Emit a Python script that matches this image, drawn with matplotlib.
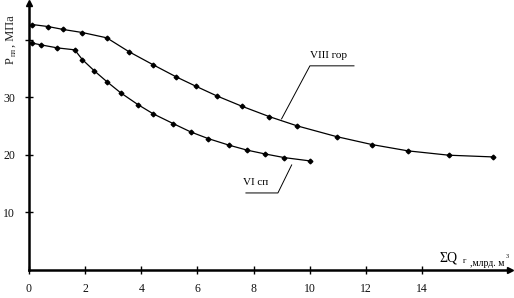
import matplotlib
matplotlib.use("Agg")
import matplotlib.pyplot as plt

# VIII гор
q_viii = [0.12, 0.69, 1.22, 1.90, 2.77, 3.55, 4.41, 5.23, 5.94, 6.69, 7.58, 8.56,
          9.56, 10.96, 12.23, 13.51, 14.96, 16.54]
p_viii = [42.66, 42.3, 41.8, 41.27, 40.35, 37.97, 35.7, 33.6, 31.95, 30.26, 28.47,
          26.66, 25.04, 23.18, 21.79, 20.7, 19.95, 19.65]

# VI сп
q_vi = [0.12, 0.42, 1.01, 1.63, 1.90, 2.33, 2.77, 3.27, 3.88, 4.43, 5.14, 5.76,
        6.39, 7.13, 7.78, 8.41, 9.10, 10.01]
p_vi = [39.43, 39.13, 38.6, 38.26, 36.57, 34.6, 32.75, 30.78, 28.75, 27.13, 25.44,
        24.0, 22.83, 21.69, 20.82, 20.17, 19.53, 18.96]

x_ticks = [0, 2, 4, 6, 8, 10, 12, 14]
y_ticks = [10, 20, 30, 40]
y_tick_labels = ["10", "20", "30", ""]

W, H = 514, 298
fig = plt.figure(figsize=(W / 100, H / 100), dpi=100)
x0, x1, y0, y1 = 29, 510, 270, 3
ax = fig.add_axes([x0 / W, (H - y0) / H, (x1 - x0) / W, (y0 - y1) / H])
ax.set_xlim(0, 17.14)
ax.set_ylim(0, 46.4)

for s in ["top", "right"]:
    ax.spines[s].set_visible(False)
for s in ["left", "bottom"]:
    ax.spines[s].set_linewidth(1.8)
    ax.spines[s].set_color("black")

# стрелки осей
ax.plot(1, 0, ">k", ms=5, transform=ax.transAxes, clip_on=False)
ax.plot(0, 1, "^k", ms=5, transform=ax.transAxes, clip_on=False)

ax.set_xticks(x_ticks)
ax.set_yticks(y_ticks)
ax.set_yticklabels(y_tick_labels)
ax.tick_params(direction="inout", length=6, width=1, labelsize=8.5)
ax.tick_params(axis="x", pad=6)
ax.tick_params(axis="y", pad=7)
for lab in ax.get_xticklabels() + ax.get_yticklabels():
    lab.set_fontfamily("Liberation Serif")
    lab.set_color("#111111")

ax.plot(q_viii, p_viii, color="black", lw=0.9, marker="D", ms=2.4)
ax.plot([0] + q_vi, [p_vi[0]] + p_vi, color="black", lw=0.9)
ax.plot(q_vi, p_vi, color="black", lw=0, marker="D", ms=2.4)

serif = "Liberation Serif"
# подписи кривых
ax.plot([9.0, 10.01, 11.58], [26.26, 35.48, 35.48], color="black", lw=0.7)
ax.text(10.69, 37.3, "VIII гор", fontsize=8, family=serif, ha="center", va="center")
ax.plot([9.36, 8.87, 7.73], [18.26, 13.39, 13.39], color="black", lw=0.7)
ax.text(8.09, 15.2, "VI сп", fontsize=8, family=serif, ha="center", va="center")

# подписи осей
fig.text(11 / W, 1 - 61 / H, "Р", rotation=90, fontsize=9, family=serif,
         ha="center", va="center", color="#222222")
fig.text(14 / W, 1 - 52 / H, "пл", rotation=90, fontsize=5.5, family=serif,
         ha="center", va="center", color="#222222")
fig.text(11 / W, 1 - 47 / H, ", МПа", rotation=90, fontsize=9, family=serif,
         ha="center", va="bottom", color="#222222")

fig.text(440 / W, 1 - 258 / H, "ΣQ", fontsize=10, family=serif, ha="left", va="center")
fig.text(463 / W, 1 - 261 / H, "г", fontsize=6, family=serif, ha="left", va="center")
fig.text(470 / W, 1 - 263 / H, ",млрд. м", fontsize=7, family=serif, ha="left", va="center")
fig.text(506 / W, 1 - 257 / H, "3", fontsize=4.5, family=serif, ha="left", va="center")

fig.savefig("out.png", dpi=100)
